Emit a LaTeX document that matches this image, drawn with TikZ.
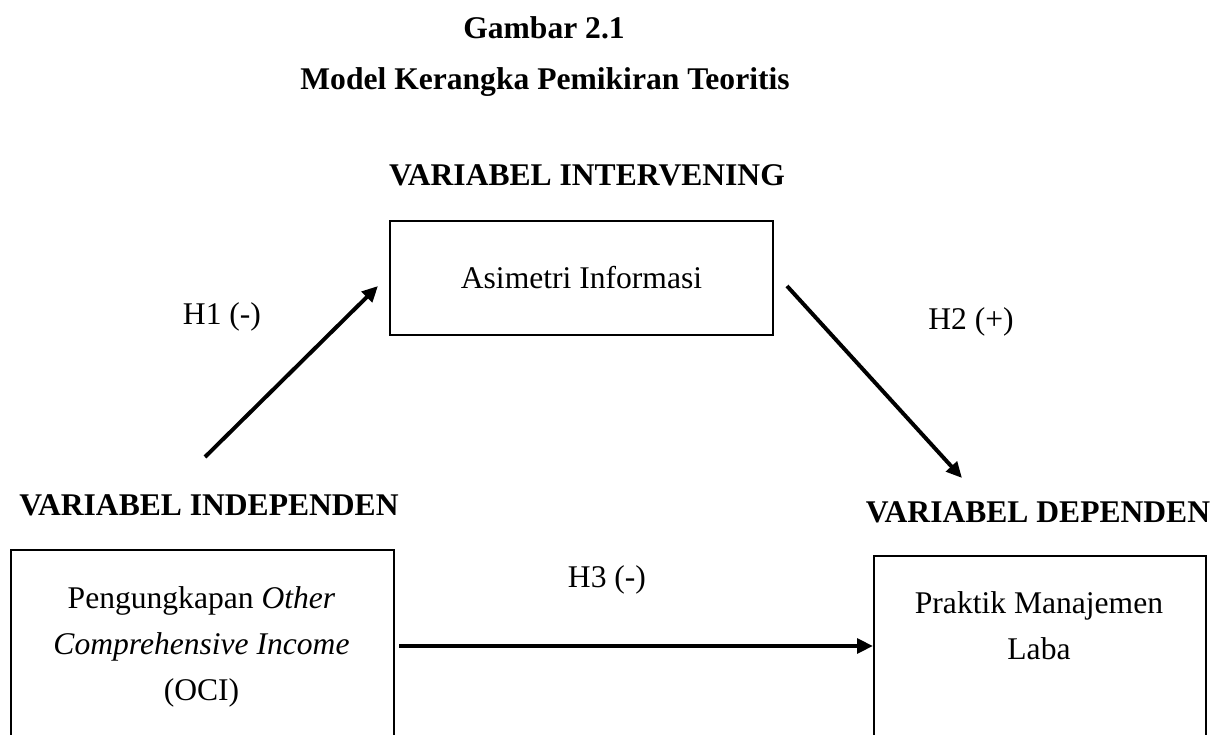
\documentclass[tikz,border=0pt]{standalone}
\usepackage{fontspec}
\setmainfont{Liberation Serif}
\usepackage{tikz}
\usetikzlibrary{positioning,arrows.meta,calc}
\tikzset{
  kp/.style={align=center, inner sep=0pt, font=\fontsize{12}{17.5}\selectfont},
  kp head/.style={kp, font=\fontsize{12}{14}\selectfont\bfseries},
  kp box/.style={draw=black, line width=0.8pt, inner sep=0pt},
  kp arr/.style={-{Triangle[length=6pt, width=5.5pt]}, line width=1.5pt, black},
}
\begin{document}
\begin{tikzpicture}[x=0.38pt, y=-0.38pt]
  \useasboundingbox (0,0) rectangle (1232,735);
  \clip (0,0) rectangle (1232,735);
  % titles
  \node[kp head] (gbr) at (544,28) {Gambar 2.1};
  \node[kp head] (judul) at (545,82) {Model Kerangka Pemikiran Teoritis};
  % headings of the variables
  \node[kp head] (hint) at (587,175) {VARIABEL INTERVENING};
  \node[kp head] (hind) at (209,505) {VARIABEL INDEPENDEN};
  \node[kp head] (hdep) at (1038,512) {VARIABEL DEPENDEN};
  % boxes
  \node[kp box, minimum width=383*0.38pt, minimum height=114*0.38pt] (asim) at (581.5,278) {};
  \node[kp] (asimtxt) at (asim.center) {Asimetri Informasi};
  \node[kp box, anchor=north west, minimum width=383*0.38pt, minimum height=220*0.38pt] (oci) at (10,549) {};
  \node[kp] (ocitxt) at (201.5,647) {Pengungkapan \textit{Other}\\\textit{Comprehensive Income}\\(OCI)};
  \node[kp box, anchor=north west, minimum width=332*0.38pt, minimum height=220*0.38pt] (dep) at (873,555) {};
  \node[kp] (deptxt) at (1039,626) {Praktik Manajemen\\Laba};
  % hypotheses
  \coordinate (h1a) at (205,457);
  \coordinate (h1b) at (378,286);
  \coordinate (h2a) at (787,286);
  \coordinate (h2b) at (962,478);
  \coordinate (h3y) at (0,646);
  \draw[kp arr] (h1a) -- (h1b);
  \draw[kp arr] (h2a) -- (h2b);
  \draw[kp arr, shorten <=1.5pt] (oci.east |- h3y) -- (dep.west |- h3y);
  \node[kp] (h1) at (222,317) {H1 (-)};
  \node[kp] (h2) at (971,322) {H2 (+)};
  \node[kp] (h3) at (607,580) {H3 (-)};
\end{tikzpicture}
\end{document}
